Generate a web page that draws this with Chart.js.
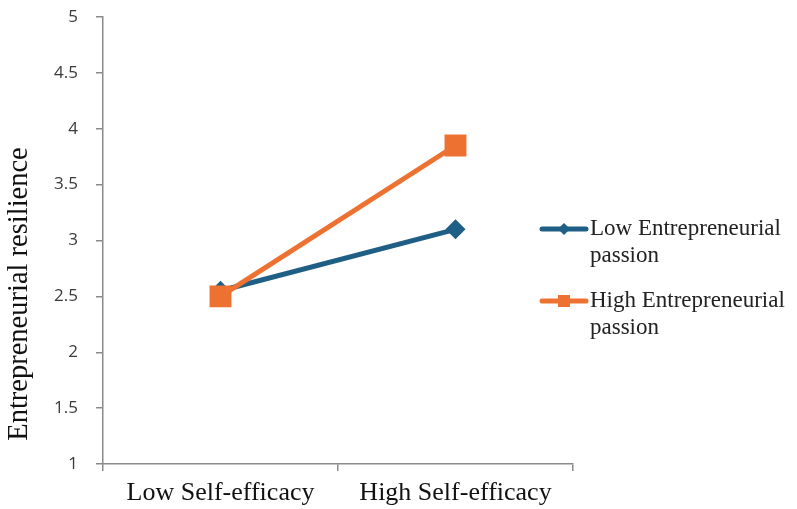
<!DOCTYPE html>
<html>
<head>
<meta charset="utf-8">
<script src="https://cdn.jsdelivr.net/npm/chart.js@4"></script>
<style>
  html, body { margin: 0; padding: 0; background: #fff; }
  #wrap { width: 797px; height: 509px; }
</style>
</head>
<body>
<div id="wrap"><canvas id="chart" width="797" height="509"></canvas></div>
<script>
  const categories = ['Low Self-efficacy', 'High Self-efficacy'];
  const lowPassion = [2.55, 3.1];
  const highPassion = [2.5, 3.85];
  const seriesNames = [['Low Entrepreneurial', 'passion'], ['High Entrepreneurial', 'passion']];
  const yTitle = 'Entrepreneurial resilience';

  const BLUE = '#1f5f85';
  const ORANGE = '#ed7231';
  const AXIS = '#8a8a8a';
  const SERIF = '"Liberation Serif", "Times New Roman", serif';

  // Legend on the right and the y title, drawn by hand: the names wrap onto
  // two lines and the title sits lower than the axis centre in the original.
  const sideLegend = {
    id: 'sideLegend',
    afterDraw(chart) {
      const ctx = chart.ctx;
      ctx.save();
      ctx.translate(20, 294);
      ctx.rotate(-Math.PI / 2);
      ctx.font = '28.5px ' + SERIF;
      ctx.textAlign = 'center';
      ctx.textBaseline = 'middle';
      ctx.fillStyle = '#111';
      ctx.fillText(yTitle, 0, 0);
      ctx.restore();

      const entries = [
        { color: BLUE, shape: 'diamond', y: 229 },
        { color: ORANGE, shape: 'square', y: 301 },
      ];
      ctx.save();
      ctx.font = '23px ' + SERIF;
      ctx.textBaseline = 'middle';
      entries.forEach((e, i) => {
        ctx.strokeStyle = e.color;
        ctx.fillStyle = e.color;
        ctx.lineWidth = 5;
        ctx.lineCap = 'round';
        ctx.beginPath();
        ctx.moveTo(542, e.y);
        ctx.lineTo(586, e.y);
        ctx.stroke();
        ctx.beginPath();
        if (e.shape === 'diamond') {
          ctx.moveTo(564, e.y - 6);
          ctx.lineTo(570, e.y);
          ctx.lineTo(564, e.y + 6);
          ctx.lineTo(558, e.y);
          ctx.closePath();
        } else {
          ctx.rect(558, e.y - 6, 12, 12);
        }
        ctx.fill();
        ctx.fillStyle = '#222';
        ctx.fillText(seriesNames[i][0], 590, e.y);
        ctx.fillText(seriesNames[i][1], 590, e.y + 27);
      });
      ctx.restore();
    },
  };

  new Chart(document.getElementById('chart'), {
    type: 'line',
    data: {
      labels: categories,
      datasets: [
        {
          label: seriesNames[0].join(' '),
          data: lowPassion,
          borderColor: BLUE,
          backgroundColor: BLUE,
          borderWidth: 5,
          pointStyle: 'rectRot',
          pointRadius: 10,
          pointBorderWidth: 0,
          order: 2,
        },
        {
          label: seriesNames[1].join(' '),
          data: highPassion,
          borderColor: ORANGE,
          backgroundColor: ORANGE,
          borderWidth: 5,
          pointStyle: 'rect',
          pointRadius: 15.5,
          pointBorderWidth: 0,
          order: 1,
        },
      ],
    },
    options: {
      responsive: false,
      animation: false,
      layout: { padding: { top: 17, right: 224, left: 0, bottom: 0 } },
      plugins: {
        legend: { display: false },
        tooltip: { enabled: false },
      },
      scales: {
        x: {
          offset: true,
          grid: {
            offset: true,
            drawOnChartArea: false,
            drawTicks: true,
            tickLength: 7,
            color: AXIS,
            lineWidth: 1.5,
          },
          border: { color: AXIS, width: 1.5 },
          ticks: {
            color: '#111',
            padding: 7,
            font: { family: SERIF, size: 26 },
          },
          afterFit: (s) => { s.height = 45; },
        },
        y: {
          min: 1,
          max: 5,
          grid: {
            drawOnChartArea: false,
            drawTicks: true,
            tickLength: 7,
            color: AXIS,
            lineWidth: 1.5,
          },
          border: { color: AXIS, width: 1.5 },
          ticks: {
            stepSize: 0.5,
            color: '#3a3a3a',
            padding: 18,
            callback: (v) => String(v),
            font: { family: '"Open Sans", sans-serif', size: 17 },
          },
          afterFit: (s) => {
            s.width = 103;
            s.paddingTop = 0;
            s.paddingBottom = 0;
          },
        },
      },
    },
    plugins: [sideLegend],
  });
</script>
</body>
</html>
